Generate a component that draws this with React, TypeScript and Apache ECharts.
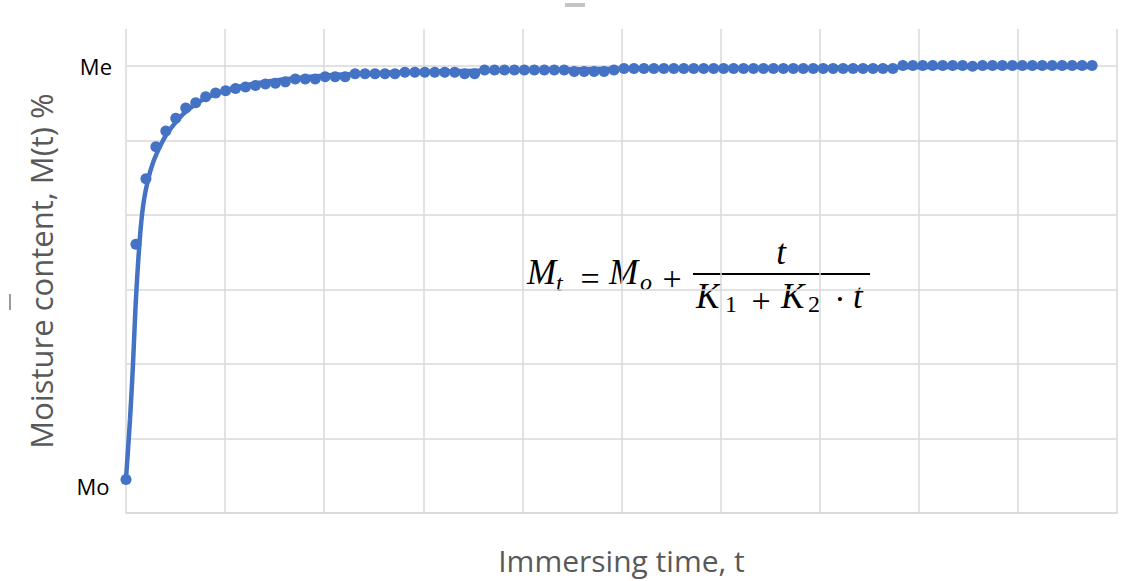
import React, { useEffect, useRef } from 'react';
import * as echarts from 'echarts';

// ---- data ----
const xAxisTitle = 'Immersing time, t';
const yAxisTitle = 'Moisture content, M(t) %';
const topTickValue = 6;
const topTickLabel = 'Me';
const startLabel = 'Mo';

// measured moisture content, one reading per time step (t = index)
const moistureDots = [
  0.45, 3.61, 4.49, 4.92, 5.13, 5.30, 5.44, 5.51, 5.59, 5.64,
  5.67, 5.70, 5.72, 5.74, 5.76, 5.77, 5.79, 5.83, 5.83, 5.83,
  5.86, 5.86, 5.86, 5.90, 5.90, 5.90, 5.90, 5.90, 5.92, 5.92,
  5.92, 5.92, 5.92, 5.92, 5.90, 5.90, 5.95, 5.95, 5.95, 5.95,
  5.95, 5.95, 5.95, 5.95, 5.95, 5.93, 5.93, 5.93, 5.93, 5.95,
  5.97, 5.97, 5.97, 5.97, 5.97, 5.97, 5.97, 5.97, 5.97, 5.97,
  5.97, 5.97, 5.97, 5.97, 5.97, 5.97, 5.97, 5.97, 5.97, 5.97,
  5.97, 5.97, 5.97, 5.97, 5.97, 5.97, 5.97, 5.97, 6.01, 6.01,
  6.01, 6.01, 6.01, 6.01, 6.01, 6.00, 6.01, 6.01, 6.01, 6.01,
  6.01, 6.01, 6.01, 6.01, 6.01, 6.01, 6.01, 6.01,
];

// fitted curve
const fitTimes = [
  0, 0.4, 0.7, 0.95, 1.2, 1.5, 1.8, 2.2, 2.7, 3.3,
  4.0, 5.0, 6.0, 7.7, 10.3, 14.4, 20.4, 27.7, 40, 55,
  70, 85, 97.2,
];
const fitValues = [
  0.46, 1.25, 1.99, 2.75, 3.33, 3.86, 4.20, 4.47, 4.70, 4.89,
  5.07, 5.25, 5.39, 5.55, 5.69, 5.80, 5.88, 5.92, 5.95, 5.97,
  5.98, 5.99, 5.99,
];

const BLUE = '#4472C4';
const GRID = '#d9d9d9';
const SANS = "'Open Sans', sans-serif";
const SERIF = "'Liberation Serif', serif";

export default function App() {
  const ref = useRef<HTMLDivElement>(null);

  useEffect(() => {
    if (!ref.current) return;
    const chart = echarts.init(ref.current, undefined, { renderer: 'svg' });

    const dots = moistureDots.map((v, i) => {
      if (i === 0) {
        return {
          value: [i, v],
          label: {
            show: true,
            formatter: startLabel,
            position: 'left',
            distance: 11,
            offset: [0, 7],
            fontSize: 22,
            color: '#000',
            fontFamily: SANS,
          },
        };
      }
      return { value: [i, v] };
    });
    const fit = fitTimes.map((t, i) => [t, fitValues[i]]);

    const it = (text: string, x: number, y: number, size: number, italic = true, align = 'left') => ({
      type: 'text',
      x,
      y,
      silent: true,
      style: {
        text,
        fontFamily: SERIF,
        fontSize: size,
        fontStyle: italic ? 'italic' : 'normal',
        fill: '#000',
        textAlign: align,
        textVerticalAlign: 'middle',
      },
    });

    const option: any = {
      animation: false,
      backgroundColor: '#ffffff',
      grid: { left: 126, right: 17, top: 29, bottom: 68 },
      xAxis: {
        type: 'value',
        min: 0,
        max: 99.5,
        interval: 9.95,
        name: xAxisTitle,
        nameLocation: 'middle',
        nameGap: 32,
        nameTextStyle: { fontSize: 30, color: '#595959', fontFamily: SANS },
        axisLine: { show: true, lineStyle: { color: GRID, width: 1.5 } },
        axisTick: { show: false },
        axisLabel: { show: false },
        splitLine: { show: true, lineStyle: { color: GRID, width: 1.5 } },
      },
      yAxis: {
        type: 'value',
        min: 0,
        max: 6.5,
        interval: 1,
        name: yAxisTitle,
        nameLocation: 'middle',
        nameGap: 70,
        nameTextStyle: { fontSize: 31, color: '#595959', fontFamily: SANS },
        axisLine: { show: false },
        axisTick: { show: false },
        axisLabel: {
          formatter: (v: number) => (v === topTickValue ? topTickLabel : ''),
          fontSize: 22,
          color: '#000',
          margin: 14,
          fontFamily: SANS,
        },
        splitLine: { show: true, showMaxLine: false, lineStyle: { color: GRID, width: 1.5 } },
      },
      series: [
        {
          type: 'scatter',
          data: dots,
          symbol: 'circle',
          symbolSize: 11,
          itemStyle: { color: BLUE, opacity: 1 },
          z: 2,
        },
        {
          type: 'line',
          data: fit,
          smooth: 0.3,
          showSymbol: false,
          lineStyle: { color: BLUE, width: 4.5 },
          z: 3,
        },
      ],
      graphic: [
        it('M', 527, 272, 35),
        it('t', 556, 283, 24),
        it('=', 590, 278, 34, false, 'center'),
        it('M', 609, 272, 35),
        it('o', 640, 282, 24),
        it('+', 672, 278, 34, false, 'center'),
        {
          type: 'line',
          silent: true,
          shape: { x1: 693, y1: 274, x2: 870, y2: 274 },
          style: { stroke: '#000', lineWidth: 2 },
        },
        it('t', 781, 252, 35, true, 'center'),
        it('K', 696, 296, 35),
        it('1', 725, 304, 24, false),
        it('+', 761, 300, 34, false, 'center'),
        it('K', 781, 296, 35),
        it('2', 808, 304, 24, false),
        it('·', 840, 298, 34, false, 'center'),
        it('t', 853, 296, 35),
        {
          type: 'rect',
          silent: true,
          shape: { x: 565, y: 3, width: 20, height: 4 },
          style: { fill: '#c4c4c4' },
        },
        {
          type: 'rect',
          silent: true,
          shape: { x: 9, y: 294, width: 2, height: 16 },
          style: { fill: '#9a9a9a' },
        },
      ],
    };

    chart.setOption(option);
    return () => chart.dispose();
  }, []);

  return (
    <div
      ref={ref}
      style={{ position: 'fixed', left: 0, top: 0, width: 1134, height: 581, background: '#fff' }}
    />
  );
}
